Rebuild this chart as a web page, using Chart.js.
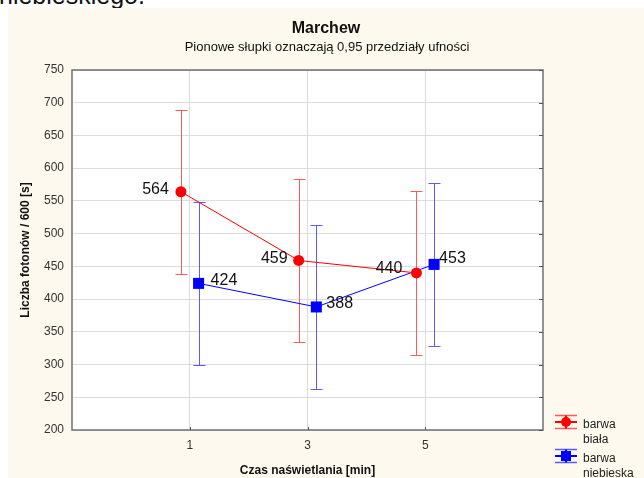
<!DOCTYPE html>
<html lang="pl">
<head>
<meta charset="utf-8">
<title>Marchew</title>
<script src="https://cdn.jsdelivr.net/npm/chart.js@4/dist/chart.umd.min.js"></script>
<style>
  html, body { margin: 0; padding: 0; background: #ffffff; width: 644px; height: 478px; overflow: hidden; }
  #lead { position: absolute; left: -1px; top: -17px; font: 25px "Liberation Sans", Arial, sans-serif; color: #111; line-height: 25px; white-space: nowrap; }
  #chart { position: absolute; left: 0; top: 0; }
</style>
</head>
<body>
<div id="lead">niebieskiego.</div>
<canvas id="chart" width="644" height="478"></canvas>
<script>
// Exposure times [min]
const czas = [1, 3, 5];
// Mean photon counts per 600 s
const barwaBiala = [564, 459, 440];
const barwaNiebieska = [424, 388, 453];
// 0.95 confidence intervals
const bialaDol = [439, 334, 315];
const bialaGora = [689, 584, 565];
const niebieskaDol = [299, 263, 328];
const niebieskaGora = [549, 513, 578];
// Y axis tick range
const yTicks = { min: 200, max: 750, step: 50 };

const FONT = '"Liberation Sans", Arial, sans-serif';
const DODGE = 0.15;            // horizontal shift of the two series around each time point
const RED = '#ff0000', RED_LIGHT = '#ff5a5a';
const BLUE = '#0000ff', BLUE_LIGHT = '#5a5aff';

const series = [
  { label: 'barwa biała', values: barwaBiala, lo: bialaDol, hi: bialaGora, shift: -DODGE,
    color: RED, light: RED_LIGHT, style: 'circle', radius: 5.5 },
  { label: 'barwa niebieska', values: barwaNiebieska, lo: niebieskaDol, hi: niebieskaGora, shift: DODGE,
    color: BLUE, light: BLUE_LIGHT, style: 'rect', radius: 7.8 }
];

// Value-label placement next to each marker
const labelPlacement = [
  { align: 'right', dx: [-12, -11, -14], dy: [-2, -2, -4] },
  { align: 'left',  dx: [12, 10, 5],     dy: [-3, -3, -6] }
];

const panelPlugin = {
  id: 'panel',
  beforeDraw(chart) {
    const { ctx, chartArea: a } = chart;
    ctx.save();
    ctx.fillStyle = '#fef9ee';
    ctx.fillRect(8, 8, chart.width - 8, chart.height - 8);
    ctx.fillStyle = '#ffffff';
    ctx.fillRect(a.left, a.top, a.right - a.left, a.bottom - a.top);
    ctx.restore();
  }
};

const frameAndBarsPlugin = {
  id: 'frameAndBars',
  beforeDatasetsDraw(chart) {
    const { ctx, chartArea: a, scales } = chart;
    const ys = scales.y, xs = scales.x;
    ctx.save();
    // frame
    ctx.strokeStyle = '#707070';
    ctx.lineWidth = 1.5;
    ctx.strokeRect(a.left, a.top, a.right - a.left, a.bottom - a.top);
    // small inner tick marks on right and bottom edges
    ctx.lineWidth = 1;
    ctx.strokeStyle = '#555';
    ctx.beginPath();
    ys.ticks.forEach(t => {
      const y = Math.round(ys.getPixelForValue(t.value)) + 0.5;
      ctx.moveTo(a.right - 4, y); ctx.lineTo(a.right, y);
    });
    xs.ticks.forEach(t => {
      const x = Math.round(xs.getPixelForValue(t.value)) + 0.5;
      ctx.moveTo(x, a.bottom - 3); ctx.lineTo(x, a.bottom);
    });
    ctx.stroke();
    // confidence-interval whiskers
    series.forEach((s, si) => {
      const meta = chart.getDatasetMeta(si);
      ctx.strokeStyle = s.light;
      ctx.lineWidth = 1;
      meta.data.forEach((pt, i) => {
        const x = Math.round(pt.x) + 0.5;
        const yTop = Math.round(ys.getPixelForValue(s.hi[i])) + 0.5;
        const yBot = Math.round(ys.getPixelForValue(s.lo[i])) + 0.5;
        ctx.beginPath();
        ctx.moveTo(x, yTop); ctx.lineTo(x, yBot);
        ctx.moveTo(x - 6, yTop); ctx.lineTo(x + 6, yTop);
        ctx.moveTo(x - 6, yBot); ctx.lineTo(x + 6, yBot);
        ctx.stroke();
      });
    });
    ctx.restore();
  },
  afterDatasetsDraw(chart) {
    const { ctx } = chart;
    ctx.save();
    ctx.font = '16px ' + FONT;
    ctx.fillStyle = '#111';
    ctx.textBaseline = 'middle';
    series.forEach((s, si) => {
      const meta = chart.getDatasetMeta(si);
      const p = labelPlacement[si];
      ctx.textAlign = p.align;
      meta.data.forEach((pt, i) => {
        ctx.fillText(String(s.values[i]), pt.x + p.dx[i], pt.y + p.dy[i]);
      });
    });
    ctx.restore();
  }
};

const textPlugin = {
  id: 'texts',
  afterDraw(chart) {
    const { ctx, chartArea: a } = chart;
    ctx.save();
    ctx.fillStyle = '#111';
    ctx.textAlign = 'center';
    ctx.textBaseline = 'alphabetic';
    ctx.font = 'bold 16px ' + FONT;
    ctx.fillText('Marchew', 326, 33);
    ctx.font = '13px ' + FONT;
    ctx.fillText('Pionowe słupki oznaczają 0,95 przedziały ufności', 327, 51);
    // axis titles
    ctx.font = 'bold 12px ' + FONT;
    ctx.fillText('Czas naświetlania [min]', (a.left + a.right) / 2, 474);
    ctx.save();
    ctx.translate(29, (a.top + a.bottom) / 2);
    ctx.rotate(-Math.PI / 2);
    ctx.fillText('Liczba fotonów / 600 [s]', 0, 0);
    ctx.restore();

    // legend
    const lx = 555, lw = 22, tx = 583;
    const rows = [
      { s: series[0], y: 422, lines: ['barwa', 'biała'] },
      { s: series[1], y: 456, lines: ['barwa', 'niebieska'] }
    ];
    rows.forEach(r => {
      const cx = lx + lw / 2;
      ctx.strokeStyle = r.s.light;
      ctx.lineWidth = 1.5;
      ctx.beginPath();
      ctx.moveTo(lx, r.y - 6.5); ctx.lineTo(lx + lw, r.y - 6.5);
      ctx.moveTo(lx, r.y + 6.5); ctx.lineTo(lx + lw, r.y + 6.5);
      ctx.stroke();
      ctx.strokeStyle = r.s.color;
      ctx.lineWidth = 2;
      ctx.beginPath();
      ctx.moveTo(lx, r.y); ctx.lineTo(lx + lw, r.y);
      ctx.moveTo(cx, r.y - 6.5); ctx.lineTo(cx, r.y + 6.5);
      ctx.stroke();
      ctx.fillStyle = r.s.color;
      if (r.s.style === 'circle') {
        ctx.beginPath(); ctx.arc(cx, r.y, 5, 0, Math.PI * 2); ctx.fill();
      } else {
        ctx.fillRect(cx - 5, r.y - 5, 10, 10);
      }
      ctx.fillStyle = '#222';
      ctx.font = '12px ' + FONT;
      ctx.textAlign = 'left';
      ctx.fillText(r.lines[0], tx, r.y + 6);
      ctx.fillText(r.lines[1], tx, r.y + 21);
    });
    ctx.restore();
  }
};

new Chart(document.getElementById('chart'), {
  type: 'line',
  data: {
    datasets: series.map(s => ({
      label: s.label,
      data: czas.map((c, i) => ({ x: c + s.shift, y: s.values[i] })),
      borderColor: s.color,
      borderWidth: 1,
      backgroundColor: s.color,
      pointStyle: s.style,
      pointRadius: s.radius,
      pointHoverRadius: s.radius,
      pointBorderWidth: 0,
      tension: 0,
      fill: false
    }))
  },
  options: {
    responsive: false,
    animation: false,
    devicePixelRatio: 1,
    layout: { padding: { left: 8, top: 70, right: 101, bottom: 0 } },
    plugins: { legend: { display: false }, tooltip: { enabled: false }, title: { display: false } },
    scales: {
      x: {
        type: 'linear',
        min: czas[0] - 2,
        max: czas[czas.length - 1] + 2,
        afterBuildTicks(scale) { scale.ticks = czas.map(v => ({ value: v })); },
        afterFit(scale) { scale.height = 48; },
        ticks: { font: { family: FONT, size: 12 }, color: '#333', padding: 8, maxRotation: 0,
                 callback: v => String(v) },
        grid: { color: '#dcdcdc', lineWidth: 1, drawTicks: false },
        border: { display: false }
      },
      y: {
        min: yTicks.min,
        max: yTicks.max,
        afterFit(scale) { scale.width = 64; },
        ticks: { stepSize: yTicks.step, font: { family: FONT, size: 12 }, color: '#333', padding: 8 },
        grid: { color: '#dcdcdc', lineWidth: 1, drawTicks: false },
        border: { display: false }
      }
    }
  },
  plugins: [panelPlugin, frameAndBarsPlugin, textPlugin]
});
</script>
</body>
</html>
